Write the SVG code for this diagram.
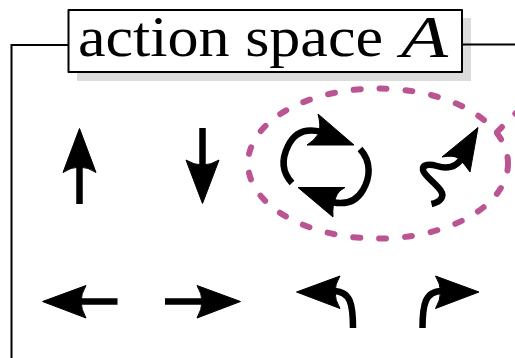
<svg xmlns="http://www.w3.org/2000/svg" width="515" height="358" viewBox="0 0 515 358">
<style>
.wire{fill:none;stroke:#000;stroke-width:2}
.shaft{fill:none;stroke:#000;stroke-width:6.5}
.head{fill:#000;stroke:#000;stroke-width:1;stroke-linejoin:round}
.dash{fill:none;stroke:#bb5592;stroke-width:6;stroke-linecap:round;stroke-dasharray:7 18.950}
text{font-family:"Liberation Serif",serif;fill:#000}
</style>
<rect width="515" height="358" fill="#fff"/>
<g id="title">
<rect x="77" y="18" width="394" height="63" fill="#dcdcdc"/>
<rect x="68.500" y="10" width="393.500" height="62" fill="#fff" stroke="#000" stroke-width="2" stroke-linejoin="round"/>
<text x="78" y="56" font-size="58" textLength="305" lengthAdjust="spacingAndGlyphs">action space</text>
<text x="401" y="57" font-size="60" font-style="italic" textLength="47" lengthAdjust="spacingAndGlyphs">A</text>
</g>
<g id="connectors">
<path class="wire" d="M68,45H11.500V358"/>
<path class="wire" d="M462,44.500H515"/>
</g>
<g id="arrow-up">
<path class="shaft" d="M79.500,204V165"/>
<path class="head" d="M79.500,128.500L63,172.500Q71,167 79.500,167Q88,167 96,172.500Z"/>
</g>
<g id="arrow-down">
<path class="shaft" d="M202.500,128V168"/>
<path class="head" d="M202.500,203.500L186,160Q194,165 202.500,165Q211,165 219,160Z"/>
</g>
<g id="arrow-left">
<path class="shaft" d="M117.500,301.500H80"/>
<path class="head" d="M42.500,301.500L86,285.500Q81,294 81,301.500Q81,309 86,318Z"/>
</g>
<g id="arrow-right">
<path class="shaft" d="M165,301.500H203"/>
<path class="head" d="M240.500,301.500L197,285.500Q202,294 202,301.500Q202,309 197,318Z"/>
</g>
<g id="turn-left">
<path class="shaft" d="M353,328C353,305 351,291 333,291"/>
<path class="head" d="M296.500,292L340,276Q335,284 335,292Q335,300 340,308.500Z"/>
</g>
<g id="turn-right">
<path class="shaft" d="M422.500,328C422.500,305 425,291 442,291"/>
<path class="head" d="M479,292L435.500,276Q440.500,284 440.500,292Q440.500,300 435.500,308.500Z"/>
</g>
<g id="cycle">
<path class="shaft" d="M292,183C280,170 283,156 288,146C295,131 307,128 322,132"/>
<path class="head" d="M354,145L318,114Q321,125 319,133Q315,140 307,145Z"/>
<path class="shaft" d="M360,149C372,162 370,178 363,190C356,202 345,205 332,202"/>
<path class="head" d="M333,217L298,187.500H345Q338,191 336,197Q332,205 333,217Z"/>
</g>
<g id="squiggle">
<path class="shaft" d="M431.500,204C440,202 445,197 441,191C436,183 424,176 423,170C422,164 430,164 437,166C446,169 456,168 462,158"/>
<path class="head" d="M478,127.500L442,157Q453,155 458,158Q464,163 470,172Z"/>
</g>
<g id="selection">
<path class="dash" d="M508,163.500A130,75 0 1 1 248,163.500A130,75 0 1 1 508,163.500"/>
<path class="dash" d="M497,132L516,113"/>
</g>
</svg>
